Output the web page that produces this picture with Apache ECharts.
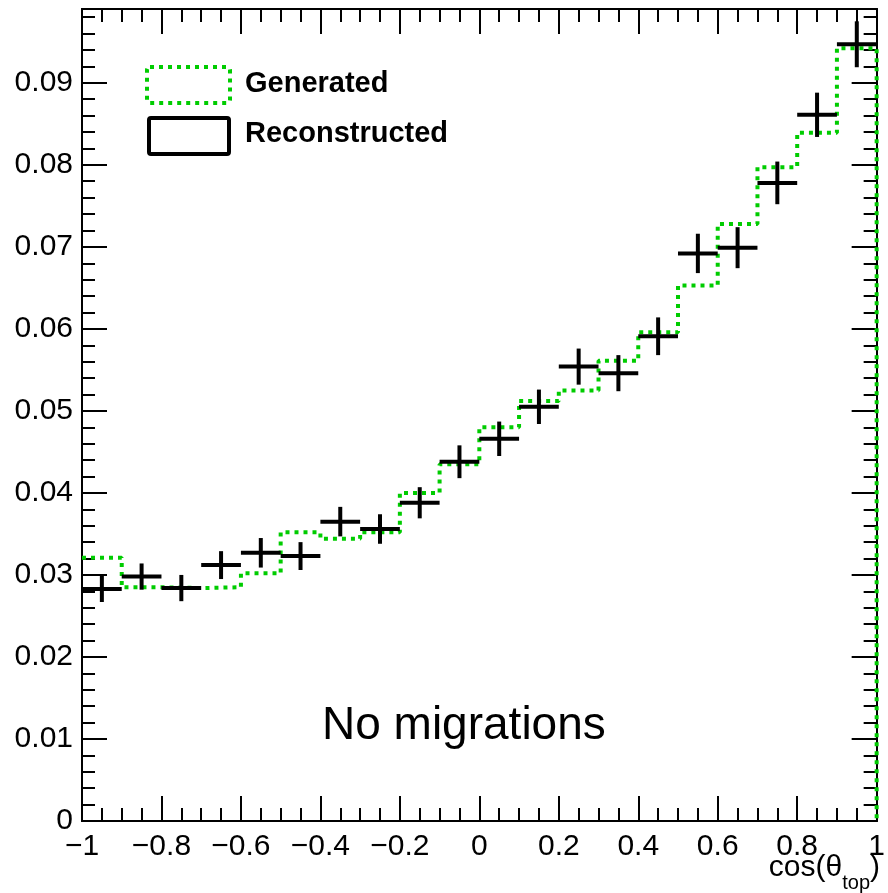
<!DOCTYPE html>
<html>
<head>
<meta charset="utf-8">
<script src="https://cdn.jsdelivr.net/npm/echarts@6/dist/echarts.min.js"></script>
<style>
  html, body { margin: 0; padding: 0; background: #fff; }
  #chart { width: 888px; height: 893px; }
</style>
</head>
<body>
<div id="chart"></div>
<script>
// bin centres of cos(theta_top), width 0.1
const binCenters = [-0.95, -0.85, -0.75, -0.65, -0.55, -0.45, -0.35, -0.25, -0.15, -0.05,
                    0.05, 0.15, 0.25, 0.35, 0.45, 0.55, 0.65, 0.75, 0.85, 0.95];
const binWidth = 0.1;

// generated (green dotted histogram)
const generated = [0.0321, 0.0285, 0.0284, 0.0285, 0.0302, 0.0352, 0.0344, 0.0352, 0.0400, 0.0435,
                   0.0480, 0.0512, 0.0525, 0.0561, 0.0596, 0.0653, 0.0728, 0.0797, 0.0839, 0.0942];

// reconstructed (black points with errors)
const reconstructed = [0.0283, 0.0298, 0.0284, 0.0312, 0.0327, 0.0323, 0.0365, 0.0356, 0.0388, 0.0438,
                       0.0466, 0.0505, 0.0554, 0.0546, 0.0591, 0.0692, 0.0699, 0.0778, 0.0861, 0.0947];
const recoErrors = [0.0016, 0.0016, 0.0016, 0.0017, 0.0018, 0.0017, 0.0018, 0.0018, 0.0019, 0.0020,
                    0.0021, 0.0021, 0.0022, 0.0022, 0.0023, 0.0024, 0.0025, 0.0026, 0.0027, 0.0028];

const FONT = '"Liberation Sans", Arial, Helvetica, sans-serif';
const GREEN = '#00cc00';

const chart = echarts.init(document.getElementById('chart'));

// step outline of the generated histogram, built from bin edges
const genLine = binCenters.map((c, i) => [c - binWidth / 2, generated[i]]);
genLine.push([1, generated[generated.length - 1]]);
genLine.push([1, 0]);

const recoData = binCenters.map((c, i) => [c, reconstructed[i], recoErrors[i]]);

const tickStyle = { color: '#000', width: 2 };

function xLabel(v) {
    const r = Math.round(v * 10) / 10;
    if (r === 0) return '0';
    return r < 0 ? '\u2212' + Math.abs(r) : String(r);
}

function yLabel(v) {
    if (Math.abs(v * 100 - Math.round(v * 100)) > 1e-6) return '';
    if (v === 0) return '0';
    return v.toFixed(2);
}

const xBase = {
    type: 'value', min: -1, max: 1, interval: 0.2,
    axisLine: { show: true, onZero: false, lineStyle: tickStyle },
    axisTick: { show: true, inside: true, length: 25, lineStyle: tickStyle },
    minorTick: { show: true, splitNumber: 4, length: 13, lineStyle: tickStyle },
    splitLine: { show: false }
};

function yAxis(pos, interval, len, labels) {
    return {
        type: 'value', min: 0, max: 0.099, interval: interval, position: pos,
        axisLine: { show: true, onZero: false, lineStyle: tickStyle },
        axisTick: { show: true, inside: true, length: len, lineStyle: tickStyle },
        axisLabel: labels ? {
            show: true, margin: 9, color: '#000', fontSize: 30, fontFamily: FONT,
            formatter: yLabel, showMaxLabel: false
        } : { show: false },
        splitLine: { show: false }
    };
}

const option = {
    animation: false,
    backgroundColor: '#fff',
    grid: { left: 82, right: 4, top: 9, bottom: 72 },
    xAxis: [
        Object.assign({}, xBase, {
            position: 'bottom',
            axisLabel: { show: true, margin: 11, color: '#000', fontSize: 30, fontFamily: FONT, formatter: xLabel }
        }),
        Object.assign({}, xBase, { position: 'top', axisLabel: { show: false } })
    ],
    yAxis: [
        yAxis('left', 0.01, 25, true),
        yAxis('left', 0.002, 13, false),
        yAxis('right', 0.01, 25, false),
        yAxis('right', 0.002, 13, false)
    ],
    series: [
        {
            name: 'Generated',
            type: 'line',
            step: 'end',
            data: genLine,
            showSymbol: false,
            clip: false,
            lineStyle: { color: GREEN, width: 4, type: [4, 5], cap: 'butt' },
            z: 3
        },
        {
            name: 'Reconstructed',
            type: 'custom',
            data: recoData,
            z: 4,
            renderItem: function (params, api) {
                const x = api.value(0), y = api.value(1), e = api.value(2);
                const l = api.coord([x - binWidth / 2, y]);
                const r = api.coord([x + binWidth / 2, y]);
                const t = api.coord([x, y + e]);
                const b = api.coord([x, y - e]);
                const st = { stroke: '#000', lineWidth: 4 };
                return {
                    type: 'group',
                    children: [
                        { type: 'line', shape: { x1: l[0], y1: l[1], x2: r[0], y2: r[1] }, style: st },
                        { type: 'line', shape: { x1: t[0], y1: t[1], x2: b[0], y2: b[1] }, style: st }
                    ]
                };
            }
        }
    ],
    graphic: [
        // legend
        {
            type: 'rect', shape: { x: 147, y: 67, width: 83, height: 36, r: 3 },
            style: { fill: 'none', stroke: GREEN, lineWidth: 4, lineDash: [4, 5] }
        },
        {
            type: 'text', x: 245, y: 84,
            style: { text: 'Generated', fill: '#000', font: 'bold 29px ' + FONT, verticalAlign: 'middle' }
        },
        {
            type: 'rect', shape: { x: 149, y: 118, width: 80, height: 36, r: 2 },
            style: { fill: 'none', stroke: '#000', lineWidth: 4 }
        },
        {
            type: 'text', x: 245, y: 134,
            style: { text: 'Reconstructed', fill: '#000', font: 'bold 29px ' + FONT, verticalAlign: 'middle' }
        },
        // annotation
        {
            type: 'text', x: 322, y: 726,
            style: { text: 'No migrations', fill: '#000', font: '46px ' + FONT, verticalAlign: 'middle' }
        },
        // x axis title
        {
            type: 'text', x: 880, y: 893,
            style: {
                text: '{a|cos(\u03b8}{b|top}{a|)}',
                align: 'right', verticalAlign: 'bottom',
                rich: {
                    a: { fontSize: 30, fontFamily: FONT, color: '#000', lineHeight: 40, verticalAlign: 'top' },
                    b: { fontSize: 20, fontFamily: FONT, color: '#000', lineHeight: 20, verticalAlign: 'bottom' }
                }
            }
        }
    ]
};

chart.setOption(option);
</script>
</body>
</html>
